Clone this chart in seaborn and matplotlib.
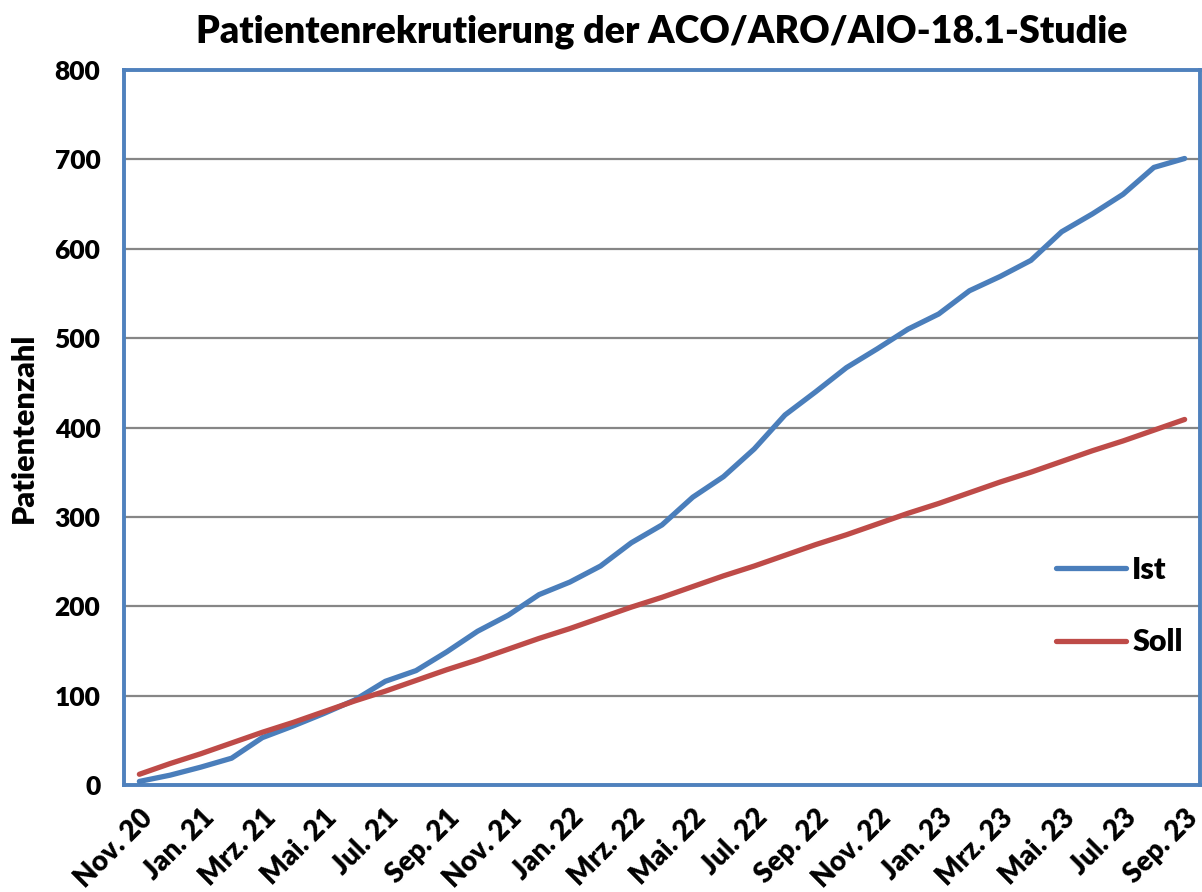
import pandas as pd
import numpy as np
import matplotlib.pyplot as plt
import seaborn as sns

months = ["Nov. 20", "Dez. 20", "Jan. 21", "Feb. 21", "Mrz. 21", "Apr. 21", "Mai. 21", "Jun. 21",
          "Jul. 21", "Aug. 21", "Sep. 21", "Okt. 21", "Nov. 21", "Dez. 21", "Jan. 22", "Feb. 22",
          "Mrz. 22", "Apr. 22", "Mai. 22", "Jun. 22", "Jul. 22", "Aug. 22", "Sep. 22", "Okt. 22",
          "Nov. 22", "Dez. 22", "Jan. 23", "Feb. 23", "Mrz. 23", "Apr. 23", "Mai. 23", "Jun. 23",
          "Jul. 23", "Aug. 23", "Sep. 23"]

ist = [4, 11, 20, 30, 53, 66, 80, 95, 116, 128, 149, 172, 190, 213, 227, 245, 271, 291,
       322, 345, 376, 414, 440, 467, 488, 510, 527, 553, 569, 587, 619, 639, 661, 691, 701]

soll = [12, 24, 35, 47, 59, 70, 82, 94, 105, 117, 129, 140, 152, 164, 175, 187, 199, 210,
        222, 234, 245, 257, 269, 280, 292, 304, 315, 327, 339, 350, 362, 374, 385, 397, 409]

df = pd.DataFrame({"idx": list(range(len(months))) * 2,
                   "Patienten": ist + soll,
                   "Reihe": ["Ist"] * len(ist) + ["Soll"] * len(soll)})

sns.set_style("white")
plt.rcParams['font.family'] = ['Lato', 'DejaVu Sans']
plt.rcParams['text.color'] = 'black'
plt.rcParams['xtick.labelcolor'] = 'black'
plt.rcParams['ytick.labelcolor'] = 'black'
plt.rcParams['axes.labelcolor'] = 'black'

fig = plt.figure(figsize=(12.02, 8.92), dpi=100)
ax = fig.add_axes([124/1202, 1 - 785/892, 1076/1202, 715/892])

sns.lineplot(data=df, x="idx", y="Patienten", hue="Reihe",
             palette={"Ist": "#4A7EBB", "Soll": "#BE4B48"},
             linewidth=3.8, ax=ax, zorder=3)

ax.set_xlim(-0.5, len(months) - 0.5)
ax.set_ylim(0, 800)
ax.set_yticks(range(0, 801, 100))
ax.yaxis.grid(True, color="#868686", linewidth=1.6)
ax.set_axisbelow(True)

ax.set_xticks(range(0, len(months), 2))
ax.set_xticklabels(months[::2], rotation=45, ha="right", rotation_mode="anchor",
                   fontsize=20, fontweight="heavy")
ax.set_xticks(np.arange(0.5, len(months) - 1, 1), minor=True)
ax.tick_params(axis="x", which="major", length=0, pad=14)
ax.tick_params(axis="x", which="minor", direction="in", length=6, width=1.3, color="#868686")
ax.tick_params(axis="y", length=0, pad=17)
for lab in ax.get_yticklabels():
    lab.set_fontsize(19)
    lab.set_fontweight("heavy")

for s in ax.spines.values():
    s.set_color("#4F81BD")
    s.set_linewidth(2.8)
    s.set_visible(True)

ax.set_xlabel("")
ax.set_ylabel("Patientenzahl", fontsize=22, fontweight="heavy", labelpad=12)
ax.set_title("Patientenrekrutierung der ACO/ARO/AIO-18.1-Studie",
             fontsize=27, fontweight="heavy", pad=20)

leg = ax.legend(frameon=False, loc="center left", bbox_to_anchor=(0.866, 0.25),
                fontsize=22, labelspacing=1.45, handlelength=2.3, handletextpad=0.2,
                borderpad=0, borderaxespad=0)
for t in leg.get_texts():
    t.set_fontweight("heavy")
for h in leg.get_lines():
    h.set_linewidth(3.8)

fig.savefig("out.png", dpi=100)
